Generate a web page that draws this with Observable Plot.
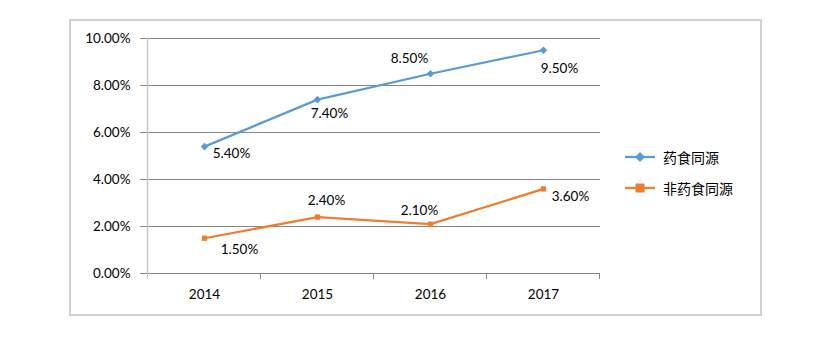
<!DOCTYPE html>
<html>
<head>
<meta charset="utf-8">
<script src="https://cdn.jsdelivr.net/npm/d3@7"></script>
<script src="https://cdn.jsdelivr.net/npm/@observablehq/plot@0.6"></script>
<style>
  html, body { margin: 0; padding: 0; background: #fff; }
  #wrap { position: relative; width: 828px; height: 351px; font-family: Lato, "Noto Sans", sans-serif; }
  #frame { position: absolute; left: 69px; top: 19px; width: 689px; height: 293px; border: 2px solid #d0d0d0; pointer-events: none; }
  #legend { position: absolute; left: 624px; top: 141px; font-family: "Noto Sans CJK SC", sans-serif; font-size: 14px; color: #000; }
  .item { display: flex; align-items: center; height: 31px; }
  .item svg { margin-right: 7px; }
</style>
</head>
<body>
<div id="wrap">
  <div id="chart"></div>
  <div id="frame"></div>
  <div id="legend"></div>
</div>
<script>
const years = ["2014", "2015", "2016", "2017"];
const seriesNames = ["药食同源", "非药食同源"];
const medFood = [0.054, 0.074, 0.085, 0.095];
const nonMedFood = [0.015, 0.024, 0.021, 0.036];
const yTicks = [0, 0.02, 0.04, 0.06, 0.08, 0.10];

// label offsets in pixels (style only)
const labelOffsets = [
  [[27, 7], [12, 14], [-21, -15], [16, 18]],
  [[35, 11], [9, -16], [-11, -13], [27, 8]]
];
const colors = ["#5b9bd5", "#ed7d31"];
const symbols = ["diamond2", "square"];
const symbolR = [6.2, 4.8];

const data = [];
[medFood, nonMedFood].forEach((vals, s) => {
  vals.forEach((v, i) => data.push({year: years[i], value: v, series: seriesNames[s], s, i}));
});

const fmt = d3.format(".2%");

function boundaryTicks(index, scales) {
  const g = d3.create("svg:g");
  const xs = years.map(y => scales.x(y));
  const st = xs[1] - xs[0];
  const y0 = scales.y(0);
  const bounds = [xs[0] - st / 2, ...xs.map(x => x + st / 2)];
  bounds.forEach((b, k) => {
    g.append("line")
      .attr("x1", b).attr("x2", b)
      .attr("y1", y0).attr("y2", y0 + 6)
      .attr("stroke", k === 0 ? "#c6c6c6" : "#868686")
      .attr("stroke-width", 1);
  });
  g.append("line")
    .attr("x1", bounds[0]).attr("x2", bounds[0])
    .attr("y1", scales.y(0.10)).attr("y2", y0)
    .attr("stroke", "#c6c6c6").attr("stroke-width", 1.5);
  return g.node();
}

const plot = Plot.plot({
  width: 828,
  height: 351,
  marginLeft: 146,
  marginRight: 228,
  marginTop: 38,
  marginBottom: 78,
  style: { fontFamily: "Lato, 'Noto Sans', sans-serif", fontSize: "13.5px", color: "#000", background: "#fff" },
  x: { type: "point", domain: years, padding: 0.5, label: null },
  y: { domain: [0, 0.10], label: null },
  marks: [
    Plot.ruleY(yTicks, { y: d => d, stroke: "#868686", strokeWidth: 1, strokeOpacity: 1 }),
    Plot.axisY({ ticks: yTicks, tickFormat: fmt, tickSize: 6, tickPadding: 10, stroke: "#868686", strokeOpacity: 1, label: null, fontSize: 13.5 }),
    Plot.axisX({ tickSize: 0, tickPadding: 16, label: null, fontSize: 13.5 }),
    boundaryTicks,
    Plot.line(data, { x: "year", y: "value", z: "series", stroke: d => colors[d.s], strokeWidth: 2.25 }),
    Plot.dot(data, { x: "year", y: "value", symbol: d => symbols[d.s], fill: d => colors[d.s], r: d => symbolR[d.s], stroke: "none" }),
    ...data.map(d => Plot.text([d], {
      x: "year", y: "value", text: e => fmt(e.value),
      dx: labelOffsets[d.s][d.i][0], dy: labelOffsets[d.s][d.i][1],
      fill: "#000", fontSize: 13.5
    }))
  ]
});
document.getElementById("chart").appendChild(plot);

const legend = document.getElementById("legend");
seriesNames.forEach((name, s) => {
  const item = document.createElement("div");
  item.className = "item";
  const sym = s === 0
    ? `<path d="M16,-5 L21,0 L16,5 L11,0 Z" fill="${colors[s]}"/>`
    : `<rect x="11.5" y="-4.5" width="9" height="9" fill="${colors[s]}"/>`;
  item.innerHTML = `<svg width="32" height="12" viewBox="0 -6 32 12"><line x1="1" x2="31" y1="0" y2="0" stroke="${colors[s]}" stroke-width="2.25"/>${sym}</svg><span>${name}</span>`;
  legend.appendChild(item);
});
</script>
</body>
</html>
